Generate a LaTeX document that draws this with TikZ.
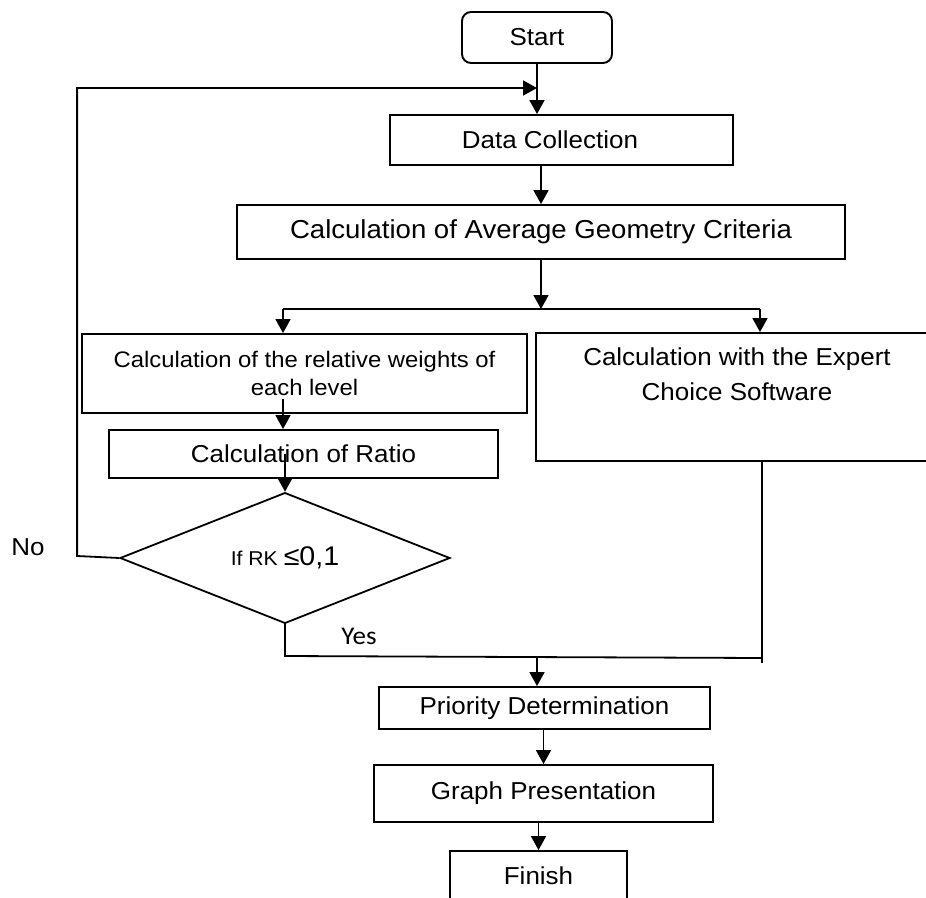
\documentclass[tikz,border=0pt]{standalone}
\usepackage{fontspec}
\setmainfont{Liberation Sans}[FakeStretch=1.06]
\newfontfamily\yesfont{Carlito}[FakeStretch=1.06]
\usetikzlibrary{shapes.geometric,arrows.meta,calc}
\begin{document}
\begin{tikzpicture}[x=1pt,y=-1pt,
  box/.style={draw,line width=1.9pt,inner sep=0pt,font=\fontsize{24.5}{35}\selectfont,align=center},
  arr/.style={line width=1.8pt,-{Triangle[length=14pt,width=15pt]}},
  ln/.style={line width=1.8pt},
  lbl/.style={inner sep=0pt,font=\fontsize{24.5}{30}\selectfont}]
\useasboundingbox (0,0) rectangle (926,897);
\clip (0,0) rectangle (926,897);
% nodes
\node[box,rounded corners=9pt,minimum width=150pt,minimum height=51pt] (start) at (537,37.5) {Start};
\node[box,minimum width=343pt,minimum height=50pt] (dc) at (561.5,140) {\hspace*{-23pt}Data Collection};
\node[box,minimum width=608pt,minimum height=54pt,font=\fontsize{26}{30}\selectfont] (avg) at (541,232) {Calculation of Average Geometry Criteria};
\node[box,minimum width=445pt,minimum height=79pt,font=\fontsize{22.5}{28}\selectfont] (wts) at (304.5,373.5) {Calculation of the relative weights of\\each level};
\node[box,minimum width=389pt,minimum height=48pt] (ratio) at (303.5,454) {Calculation of Ratio};
\node[box,minimum width=402pt,minimum height=128pt] (exp) at (737,397) {Calculation with the Expert\\Choice Software\\\strut};
\node[draw,diamond,line width=1.8pt,minimum width=330pt,minimum height=114pt,inner sep=0pt] (dia) at (285,558)
  {\raisebox{-3pt}{\fontsize{20}{24}\selectfont If RK \fontsize{27}{30}\selectfont ≤0,1}};
\node[box,minimum width=331pt,minimum height=42pt] (prio) at (544.5,708) {Priority Determination};
\node[box,minimum width=339pt,minimum height=57pt] (graph) at (543.5,793.5) {Graph Presentation};
\node[box,minimum width=177pt,minimum height=50pt] (fin) at (538.5,876) {Finish};
\node[lbl] (no) at (28,547) {No};
\node[lbl,font=\yesfont\fontsize{25.5}{30}\selectfont] (yes) at (359,636) {Yes};
% coordinates
\coordinate (j) at (537,88);
\coordinate (bl) at (283,309);
\coordinate (br) at (760,309);
\coordinate (ys) at (285,622);
\coordinate (yl) at (285,656);
\coordinate (yr) at (762,658);
\coordinate (ye) at (762,663);
\coordinate (mj) at (537,657);
% connectors
\draw[arr] (start.south) -- (start.south |- dc.north);
\draw[arr] (dia.west) -- ++(-42,-2) |- (j);
\draw[arr] (avg.north |- dc.south) -- (avg.north);
\draw[arr] (avg.south) -- (avg.south |- bl);
\draw[ln] (bl) -- (br);
\draw[arr] (bl) -- (bl |- wts.north);
\draw[arr] (br) -- (br |- exp.north);
\draw[arr] ($(bl |- ratio.north)+(0,-30)$) -- (bl |- ratio.north);
\draw[arr] (dia.north |- ratio.center) -- (dia.north);
\draw[ln] (ys) -- (yl) -- (yr);
\draw[ln] (ye) -- (ye |- exp.south);
\draw[arr] (mj) -- (mj |- prio.north);
\draw[arr] (prio.south -| graph.north) -- (graph.north);
\draw[arr] (graph.south -| fin.north) -- (fin.north);
\end{tikzpicture}
\end{document}
